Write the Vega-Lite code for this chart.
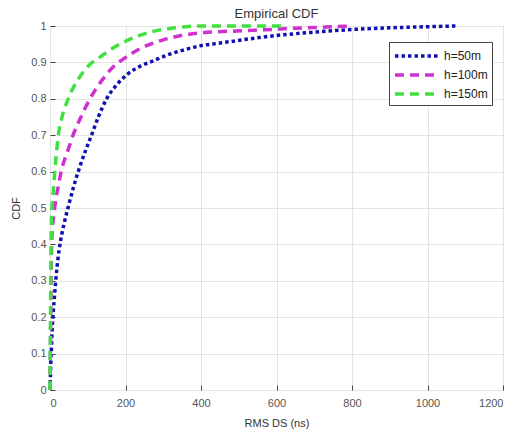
{
  "$schema": "https://vega.github.io/schema/vega-lite/v6.json",
  "width": 453,
  "height": 364,
  "autosize": "none",
  "padding": {"left": 50, "top": 26, "right": 28, "bottom": 45},
  "background": "white",
  "title": {"text": "Empirical CDF", "fontSize": 13, "font": "Liberation Sans", "fontWeight": "normal", "color": "#333333", "offset": -2},
  "datasets": {
    "cdf": [
      {"h": "h=50m", "ds": 0, "cdf": 0},
      {"h": "h=50m", "ds": 1, "cdf": 0.03},
      {"h": "h=50m", "ds": 2, "cdf": 0.07},
      {"h": "h=50m", "ds": 4, "cdf": 0.12},
      {"h": "h=50m", "ds": 6, "cdf": 0.17},
      {"h": "h=50m", "ds": 9, "cdf": 0.22},
      {"h": "h=50m", "ds": 12, "cdf": 0.26},
      {"h": "h=50m", "ds": 16, "cdf": 0.31},
      {"h": "h=50m", "ds": 21, "cdf": 0.36},
      {"h": "h=50m", "ds": 28, "cdf": 0.41},
      {"h": "h=50m", "ds": 38, "cdf": 0.46},
      {"h": "h=50m", "ds": 50, "cdf": 0.51},
      {"h": "h=50m", "ds": 63, "cdf": 0.56},
      {"h": "h=50m", "ds": 78, "cdf": 0.61},
      {"h": "h=50m", "ds": 95, "cdf": 0.66},
      {"h": "h=50m", "ds": 110, "cdf": 0.7},
      {"h": "h=50m", "ds": 128, "cdf": 0.75},
      {"h": "h=50m", "ds": 150, "cdf": 0.8},
      {"h": "h=50m", "ds": 178, "cdf": 0.84},
      {"h": "h=50m", "ds": 208, "cdf": 0.87},
      {"h": "h=50m", "ds": 240, "cdf": 0.89},
      {"h": "h=50m", "ds": 275, "cdf": 0.905},
      {"h": "h=50m", "ds": 310, "cdf": 0.92},
      {"h": "h=50m", "ds": 350, "cdf": 0.933},
      {"h": "h=50m", "ds": 400, "cdf": 0.946},
      {"h": "h=50m", "ds": 450, "cdf": 0.953},
      {"h": "h=50m", "ds": 510, "cdf": 0.962},
      {"h": "h=50m", "ds": 610, "cdf": 0.975},
      {"h": "h=50m", "ds": 700, "cdf": 0.983},
      {"h": "h=50m", "ds": 810, "cdf": 0.991},
      {"h": "h=50m", "ds": 900, "cdf": 0.995},
      {"h": "h=50m", "ds": 1000, "cdf": 0.998},
      {"h": "h=50m", "ds": 1075, "cdf": 1.0},
      {"h": "h=100m", "ds": 0, "cdf": 0},
      {"h": "h=100m", "ds": 1, "cdf": 0.1},
      {"h": "h=100m", "ds": 2, "cdf": 0.2},
      {"h": "h=100m", "ds": 3, "cdf": 0.3},
      {"h": "h=100m", "ds": 4, "cdf": 0.38},
      {"h": "h=100m", "ds": 6, "cdf": 0.44},
      {"h": "h=100m", "ds": 10, "cdf": 0.48},
      {"h": "h=100m", "ds": 15, "cdf": 0.52},
      {"h": "h=100m", "ds": 22, "cdf": 0.56},
      {"h": "h=100m", "ds": 31, "cdf": 0.607},
      {"h": "h=100m", "ds": 45, "cdf": 0.65},
      {"h": "h=100m", "ds": 61, "cdf": 0.7},
      {"h": "h=100m", "ds": 82, "cdf": 0.75},
      {"h": "h=100m", "ds": 106, "cdf": 0.8},
      {"h": "h=100m", "ds": 140, "cdf": 0.854},
      {"h": "h=100m", "ds": 175, "cdf": 0.895},
      {"h": "h=100m", "ds": 194, "cdf": 0.909},
      {"h": "h=100m", "ds": 225, "cdf": 0.93},
      {"h": "h=100m", "ds": 256, "cdf": 0.946},
      {"h": "h=100m", "ds": 300, "cdf": 0.962},
      {"h": "h=100m", "ds": 344, "cdf": 0.973},
      {"h": "h=100m", "ds": 400, "cdf": 0.981},
      {"h": "h=100m", "ds": 512, "cdf": 0.987},
      {"h": "h=100m", "ds": 575, "cdf": 0.99},
      {"h": "h=100m", "ds": 650, "cdf": 0.994},
      {"h": "h=100m", "ds": 730, "cdf": 0.997},
      {"h": "h=100m", "ds": 800, "cdf": 1.0},
      {"h": "h=150m", "ds": 0, "cdf": 0},
      {"h": "h=150m", "ds": 1, "cdf": 0.15},
      {"h": "h=150m", "ds": 2, "cdf": 0.3},
      {"h": "h=150m", "ds": 3, "cdf": 0.42},
      {"h": "h=150m", "ds": 5, "cdf": 0.5},
      {"h": "h=150m", "ds": 9, "cdf": 0.55},
      {"h": "h=150m", "ds": 13, "cdf": 0.607},
      {"h": "h=150m", "ds": 17, "cdf": 0.65},
      {"h": "h=150m", "ds": 22, "cdf": 0.7},
      {"h": "h=150m", "ds": 32, "cdf": 0.75},
      {"h": "h=150m", "ds": 48, "cdf": 0.8},
      {"h": "h=150m", "ds": 75, "cdf": 0.854},
      {"h": "h=150m", "ds": 106, "cdf": 0.895},
      {"h": "h=150m", "ds": 133, "cdf": 0.915},
      {"h": "h=150m", "ds": 160, "cdf": 0.935},
      {"h": "h=150m", "ds": 200, "cdf": 0.958},
      {"h": "h=150m", "ds": 240, "cdf": 0.975},
      {"h": "h=150m", "ds": 265, "cdf": 0.983},
      {"h": "h=150m", "ds": 310, "cdf": 0.992},
      {"h": "h=150m", "ds": 360, "cdf": 0.998},
      {"h": "h=150m", "ds": 400, "cdf": 1.0},
      {"h": "h=150m", "ds": 620, "cdf": 1.0}
    ]
  },
  "data": {"name": "cdf"},
  "mark": {"type": "line", "strokeWidth": 3.5, "interpolate": "monotone", "clip": false},
  "encoding": {
    "x": {
      "field": "ds", "type": "quantitative",
      "scale": {"domain": [0, 1200], "nice": false},
      "axis": {"title": "RMS DS (ns)", "values": [0, 200, 400, 600, 800, 1000, 1200], "format": "d", "labelPadding": 12, "titlePadding": 9}
    },
    "y": {
      "field": "cdf", "type": "quantitative",
      "scale": {"domain": [0, 1], "nice": false},
      "axis": {"title": "CDF", "values": [0, 0.1, 0.2, 0.3, 0.4, 0.5, 0.6, 0.7, 0.8, 0.9, 1], "format": "~g", "labelPadding": 9, "titlePadding": 9}
    },
    "color": {
      "field": "h", "type": "nominal",
      "scale": {"domain": ["h=50m", "h=100m", "h=150m"], "range": ["#1010b0", "#d030d0", "#40e040"]},
      "legend": {
        "orient": "none", "legendX": 339, "legendY": 16, "title": null,
        "symbolType": "M-1,0H4.6", "symbolSize": 256, "symbolStrokeWidth": 3.5,
        "labelFontSize": 12, "labelFont": "Liberation Sans", "labelColor": "#222222",
        "strokeColor": "#444444", "fillColor": "white", "padding": 4, "rowPadding": 2, "labelOffset": 31
      }
    },
    "strokeDash": {
      "field": "h", "type": "nominal",
      "scale": {"domain": ["h=50m", "h=100m", "h=150m"], "range": [[3.5, 3], [9, 6], [9, 6]]},
      "legend": null
    }
  },
  "config": {
    "view": {"stroke": "#444444", "strokeWidth": 1},
    "axis": {
      "domain": false, "grid": true, "gridColor": "#e4e4e4",
      "tickColor": "#444444", "tickSize": -5,
      "labelColor": "#555555", "labelFontSize": 11, "labelFont": "Liberation Sans",
      "titleColor": "#333333", "titleFontSize": 11, "titleFont": "Liberation Sans", "titleFontWeight": "normal"
    }
  }
}
